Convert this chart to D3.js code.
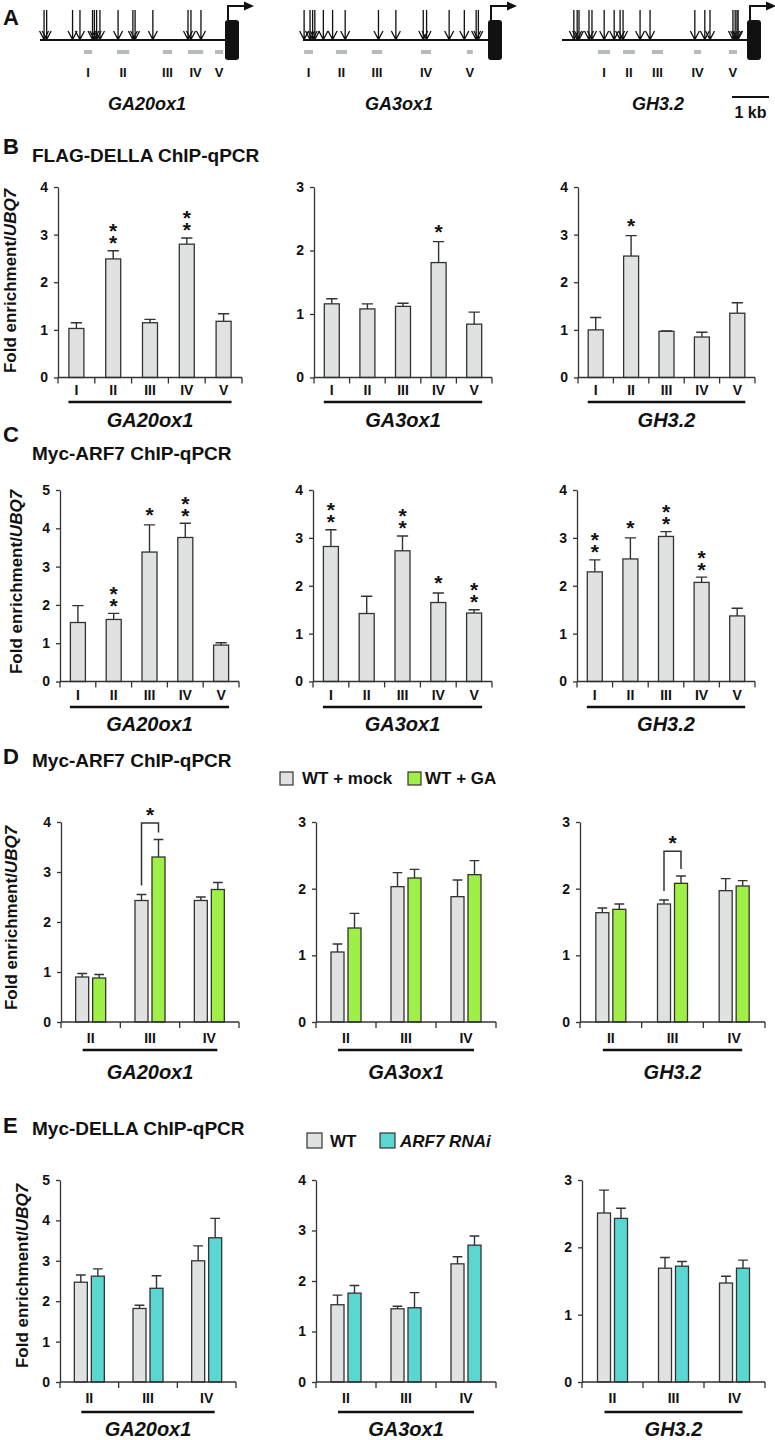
<!DOCTYPE html>
<html><head><meta charset="utf-8">
<script src="https://cdn.jsdelivr.net/npm/d3@7"></script>
<style>
body{margin:0;background:#fff}
svg{display:block}
text{font-family:"Liberation Sans",Arial,Helvetica,sans-serif;font-weight:bold;fill:#111}
.vstar{writing-mode:vertical-rl;text-orientation:upright}
</style>
</head><body>
<svg id="fig" width="775" height="1440"></svg>
<script>
// ================= DATA =================
const genes = ["GA20ox1", "GA3ox1", "GH3.2"];
const regions5 = ["I", "II", "III", "IV", "V"];
const regions3 = ["II", "III", "IV"];

// Panel A: motif positions (kb from TSS) and ChIP amplicons [start, end] (kb)
const motifsGA20ox1 = [-4.89,-4.82,-4.12,-3.92,-3.58,-3.53,-3.47,-3.38,-2.89,-2.49,-2.43,-1.95,-1.0,-0.92,-0.65];
const motifsGA3ox1  = [-4.97,-4.81,-4.74,-4.68,-4.45,-4.20,-3.86,-2.96,-2.49,-1.75,-1.66,-1.05,-0.64,-0.32,-0.26];
const motifsGH32    = [-4.68,-4.59,-4.54,-4.27,-4.19,-3.86,-3.59,-3.43,-3.35,-2.89,-2.62,-1.41,-1.14,-1.0,-0.38,-0.32,-0.27,-0.24];
const ampGA20ox1 = [[-3.81,-3.59],[-2.92,-2.59],[-1.68,-1.43],[-1.0,-0.59],[-0.27,-0.05]];
const ampGA3ox1  = [[-4.97,-4.73],[-4.11,-3.81],[-3.14,-2.86],[-1.81,-1.54],[-0.57,-0.41]];
const ampGH32    = [[-4.03,-3.70],[-3.35,-3.03],[-2.57,-2.27],[-1.43,-1.24],[-0.49,-0.27]];
const promoterKb = 5;
const scaleBarKb = 1;

// Panel B: FLAG-DELLA ChIP-qPCR
const bYMax  = [4, 3, 4];
const bMean  = [[1.03,2.49,1.15,2.80,1.18],[1.16,1.08,1.12,1.81,0.84],[1.00,2.55,0.97,0.85,1.35]];
const bErr   = [[0.12,0.17,0.07,0.13,0.16],[0.08,0.08,0.05,0.33,0.19],[0.26,0.43,0.01,0.10,0.22]];
const bStars = [[0,2,0,2,0],[0,0,0,1,0],[0,1,0,0,0]];

// Panel C: Myc-ARF7 ChIP-qPCR
const cYMax  = [5, 4, 4];
const cMean  = [[1.54,1.62,3.38,3.76,0.95],[2.82,1.42,2.73,1.65,1.43],[2.29,2.56,3.03,2.07,1.37]];
const cErr   = [[0.44,0.16,0.71,0.37,0.06],[0.35,0.36,0.31,0.20,0.07],[0.25,0.44,0.10,0.11,0.16]];
const cStars = [[0,2,1,2,0],[2,0,2,1,2],[2,1,2,2,0]];

// Panel D: Myc-ARF7 ChIP-qPCR, WT + mock vs WT + GA
const dLegend = ["WT + mock", "WT + GA"];
const dYMax   = [4, 3, 3];
const dMock   = [[0.90,2.43,2.43],[1.05,2.03,1.88],[1.64,1.77,1.97]];
const dMockE  = [[0.07,0.12,0.07],[0.12,0.21,0.25],[0.07,0.06,0.18]];
const dGA     = [[0.88,3.30,2.65],[1.41,2.16,2.21],[1.69,2.08,2.04]];
const dGAE    = [[0.07,0.35,0.14],[0.22,0.13,0.21],[0.08,0.11,0.08]];
const dBracket = [{cat:"III", top:3.98}, null, {cat:"III", top:2.56}];

// Panel E: Myc-DELLA ChIP-qPCR, WT vs ARF7 RNAi
const eLegend = ["WT", "ARF7 RNAi"];
const eYMax   = [5, 4, 3];
const eWT     = [[2.47,1.82,3.00],[1.53,1.45,2.34],[2.51,1.69,1.47]];
const eWTE    = [[0.18,0.08,0.37],[0.19,0.05,0.14],[0.34,0.16,0.10]];
const eRNAi   = [[2.62,2.32,3.57],[1.76,1.47,2.71],[2.43,1.72,1.69]];
const eRNAiE  = [[0.18,0.31,0.48],[0.15,0.30,0.18],[0.15,0.07,0.12]];

// ================= STYLE / LAYOUT =================
const INK = "#333", GREY = "#dfe2e1", GREEN = "#9ef047", TEAL = "#5bd7d1", DASH = "#b7bbbb";
const svg = d3.select("#fig");

function text(x, y, s, size, o = {}) {
  const t = svg.append("text").attr("x", x).attr("y", y).attr("font-size", size).text(s);
  if (o.anchor) t.attr("text-anchor", o.anchor);
  if (o.italic) t.attr("font-style", "italic");
  return t;
}

// ---------- Panel A ----------
const kbPx = 37;
const geneA = [
  {tss:225, motifs:motifsGA20ox1, amps:ampGA20ox1, nameX:147},
  {tss:488, motifs:motifsGA3ox1,  amps:ampGA3ox1,  nameX:399},
  {tss:747, motifs:motifsGH32,    amps:ampGH32,    nameX:658}
];
text(3, 25, "A", 22);
geneA.forEach((ga, gi) => {
  const xk = d3.scaleLinear().domain([-promoterKb, 0]).range([ga.tss - promoterKb * kbPx, ga.tss]);
  const g = svg.append("g");
  g.append("line").attr("x1", xk(-promoterKb)).attr("x2", xk(0)).attr("y1", 40).attr("y2", 40)
    .attr("stroke", "#111").attr("stroke-width", 2);
  g.selectAll(".m").data(ga.motifs).join("path")
    .attr("d", d => `M${xk(d)},10V39M${xk(d)-4.5},31L${xk(d)},39.5L${xk(d)+4.5},31`)
    .attr("fill", "none").attr("stroke", "#111").attr("stroke-width", 1.3);
  g.selectAll(".a").data(ga.amps).join("rect")
    .attr("x", d => xk(d[0])).attr("width", d => xk(d[1]) - xk(d[0]))
    .attr("y", 50).attr("height", 4).attr("fill", DASH);
  g.selectAll(".l").data(ga.amps).join("text")
    .attr("x", d => xk((d[0] + d[1]) / 2)).attr("y", 77).attr("text-anchor", "middle")
    .attr("font-size", 13).text((d, i) => regions5[i]);
  g.append("rect").attr("x", xk(0)).attr("y", 20).attr("width", 14).attr("height", 40)
    .attr("rx", 3).attr("fill", "#111");
  g.append("path").attr("d", `M${xk(0)+3},20V6H${xk(0)+20}`).attr("fill", "none")
    .attr("stroke", "#111").attr("stroke-width", 2);
  g.append("path").attr("d", `M${xk(0)+19},1.5L${xk(0)+29},6L${xk(0)+19},10.5Z`).attr("fill", "#111");
  text(ga.nameX, 110, genes[gi], 18, {anchor:"middle", italic:true});
  if (gi === 2) {
    const sb = d3.scaleLinear().domain([0, scaleBarKb]).range([769 - kbPx, 769]);
    svg.append("line").attr("x1", sb(0)).attr("x2", sb(scaleBarKb)).attr("y1", 97).attr("y2", 97)
      .attr("stroke", "#111").attr("stroke-width", 2);
    text((sb(0) + sb(scaleBarKb)) / 2, 118, scaleBarKb + " kb", 16, {anchor:"middle"});
  }
});

// ---------- Bar chart helper ----------
function barChart(cfg) {
  const g = svg.append("g");
  const x = d3.scaleBand().domain(cfg.cats).range([cfg.x0, cfg.x1]);
  const y = d3.scaleLinear().domain([0, cfg.yMax]).range([cfg.y0, cfg.yTop]);
  const nS = cfg.series.length;
  const inner = d3.scaleBand().domain(d3.range(nS))
    .range(nS === 1 ? [-7.5, 7.5] : [-15, 15]).paddingInner(nS === 1 ? 0 : 0.235);
  const bw = inner.bandwidth();
  const cx = (c, si) => x(c) + x.bandwidth() / 2 + inner(si) + bw / 2;

  cfg.series.forEach((s, si) => {
    g.selectAll(null).data(cfg.cats).join("rect")
      .attr("x", c => cx(c, si) - bw / 2).attr("width", bw)
      .attr("y", (c, i) => y(s.vals[i])).attr("height", (c, i) => y(0) - y(s.vals[i]))
      .attr("fill", s.fill).attr("stroke", INK).attr("stroke-width", 1.3);
    const cap = bw * 0.75;
    g.selectAll(null).data(cfg.cats).join("path")
      .attr("d", (c, i) => {
        const xc = cx(c, si), yt = y(s.vals[i] + s.errs[i]);
        return `M${xc},${y(s.vals[i])}V${yt}M${xc - cap/2},${yt}H${xc + cap/2}`;
      })
      .attr("fill", "none").attr("stroke", INK).attr("stroke-width", 1.4);
  });

  // stars (single-series charts): one text per bar, stacked vertically when "**"
  if (cfg.stars) {
    const s = cfg.series[0];
    cfg.cats.forEach((c, i) => {
      const n = cfg.stars[i];
      if (!n) return;
      const yt = y(s.vals[i] + s.errs[i]);
      if (n === 1) {
        g.append("text").attr("x", cx(c, 0)).attr("y", yt - 3)
          .attr("text-anchor", "middle").attr("font-size", 21).text("*");
      } else {
        g.append("text").attr("class", "vstar").attr("x", cx(c, 0)).attr("y", yt - 13 - 10 * (n - 1) - 8.5)
          .attr("font-size", 21).attr("letter-spacing", -11).text("*".repeat(n));
      }
    });
  }
  // significance bracket (two-series charts)
  if (cfg.bracket) {
    const i = cfg.cats.indexOf(cfg.bracket.cat);
    const s0 = cfg.series[0], s1 = cfg.series[1];
    const xl = cx(cfg.bracket.cat, 0), xr = cx(cfg.bracket.cat, 1);
    const yl = y(s0.vals[i] + s0.errs[i]) - 9, yr = y(s1.vals[i] + s1.errs[i]) - 7;
    const yt = y(cfg.bracket.top);
    g.append("path").attr("d", `M${xl},${yl}V${yt}H${xr}V${yr}`)
      .attr("fill", "none").attr("stroke", INK).attr("stroke-width", 1.5);
    g.append("text").attr("x", (xl + xr) / 2).attr("y", yt - 1).attr("text-anchor", "middle")
      .attr("font-size", 21).text("*");
  }

  // y axis
  const ya = g.append("g").attr("transform", `translate(${cfg.x0},0)`)
    .call(d3.axisLeft(y).tickValues(d3.range(0, cfg.yMax + 1)).tickSize(4).tickSizeOuter(0)
      .tickPadding(6).tickFormat(d3.format("d")));
  ya.select(".domain").attr("stroke", INK).attr("stroke-width", 1.3);
  ya.selectAll(".tick line").attr("stroke", INK).attr("stroke-width", 1.3);
  ya.selectAll(".tick text").attr("font-size", 14).attr("font-family", null).attr("fill", "#111");

  // x axis
  g.append("line").attr("x1", cfg.x0).attr("x2", cfg.x1).attr("y1", y(0)).attr("y2", y(0))
    .attr("stroke", INK).attr("stroke-width", 1.3);
  const bounds = cfg.cats.map(c => x(c)).concat([x(cfg.cats[cfg.cats.length - 1]) + x.bandwidth()]);
  g.selectAll(null).data(bounds).join("line")
    .attr("x1", d => d).attr("x2", d => d).attr("y1", y(0)).attr("y2", y(0) + 6)
    .attr("stroke", INK).attr("stroke-width", 1.3);
  g.selectAll(null).data(cfg.cats).join("text")
    .attr("x", c => x(c) + x.bandwidth() / 2).attr("y", y(0) + cfg.labDy)
    .attr("text-anchor", "middle").attr("font-size", 14).text(c => c);
  const ul0 = x(cfg.cats[0]) + x.bandwidth() / 2 - 8;
  const ul1 = x(cfg.cats[cfg.cats.length - 1]) + x.bandwidth() / 2 + 8;
  g.append("line").attr("x1", ul0).attr("x2", ul1).attr("y1", y(0) + cfg.ulDy).attr("y2", y(0) + cfg.ulDy)
    .attr("stroke", "#111").attr("stroke-width", 2.5);
  g.append("text").attr("x", (ul0 + ul1) / 2).attr("y", y(0) + cfg.geneDy)
    .attr("text-anchor", "middle").attr("font-size", 20).attr("font-style", "italic").text(cfg.gene);
}

function yTitle(xc, yc) {
  const t = svg.append("text").attr("transform", `translate(${xc},${yc}) rotate(-90)`)
    .attr("text-anchor", "middle").attr("dominant-baseline", "central").attr("font-size", 17);
  t.append("tspan").text("Fold enrichment/");
  t.append("tspan").attr("font-style", "italic").text("UBQ7");
}

// ---------- Panel B ----------
text(3, 154, "B", 22);
text(32, 162, "FLAG-DELLA ChIP-qPCR", 19);
yTitle(10, 281);
const colB = [[58, 242], [314, 492], [578, 755]];
genes.forEach((gn, i) => barChart({
  x0: colB[i][0], x1: colB[i][1], y0: 377.5, yTop: 187, yMax: bYMax[i], cats: regions5,
  series: [{vals: bMean[i], errs: bErr[i], fill: GREY}], stars: bStars[i],
  gene: gn, labDy: 17.5, ulDy: 24.5, geneDy: 49.5
}));

// ---------- Panel C ----------
text(3, 442, "C", 22);
text(32, 460, "Myc-ARF7 ChIP-qPCR", 19);
yTitle(16, 582);
const colC = [[60, 239], [313, 492], [577, 755]];
genes.forEach((gn, i) => barChart({
  x0: colC[i][0], x1: colC[i][1], y0: 681.5, yTop: 490, yMax: cYMax[i], cats: regions5,
  series: [{vals: cMean[i], errs: cErr[i], fill: GREY}], stars: cStars[i],
  gene: gn, labDy: 18.5, ulDy: 25.5, geneDy: 49.5
}));

// ---------- Panel D ----------
text(3, 764, "D", 22);
text(32, 767, "Myc-ARF7 ChIP-qPCR", 19);
svg.append("rect").attr("x", 280).attr("y", 772).attr("width", 13).attr("height", 13)
  .attr("fill", GREY).attr("stroke", INK).attr("stroke-width", 1.2);
text(302, 784, dLegend[0], 17);
svg.append("rect").attr("x", 408).attr("y", 772).attr("width", 13).attr("height", 13)
  .attr("fill", GREEN).attr("stroke", INK).attr("stroke-width", 1.2);
text(425, 784, dLegend[1], 17);
yTitle(11, 918);
const colD = [[61, 239], [316, 496], [580, 765]];
genes.forEach((gn, i) => barChart({
  x0: colD[i][0], x1: colD[i][1], y0: 1022, yTop: 822, yMax: dYMax[i], cats: regions3,
  series: [{vals: dMock[i], errs: dMockE[i], fill: GREY}, {vals: dGA[i], errs: dGAE[i], fill: GREEN}],
  bracket: dBracket[i], gene: gn, labDy: 21, ulDy: 28, geneDy: 57
}));

// ---------- Panel E ----------
text(3, 1133, "E", 22);
text(32, 1135, "Myc-DELLA ChIP-qPCR", 19);
svg.append("rect").attr("x", 307).attr("y", 1133).attr("width", 15).attr("height", 15)
  .attr("fill", GREY).attr("stroke", INK).attr("stroke-width", 1.2);
text(330, 1147, eLegend[0], 17);
svg.append("rect").attr("x", 380).attr("y", 1133).attr("width", 15).attr("height", 15)
  .attr("fill", TEAL).attr("stroke", INK).attr("stroke-width", 1.2);
text(400, 1147, eLegend[1], 17, {italic: true});
yTitle(22, 1276);
const colE = [[60, 236], [316, 496], [582, 765]];
genes.forEach((gn, i) => barChart({
  x0: colE[i][0], x1: colE[i][1], y0: 1382, yTop: 1180, yMax: eYMax[i], cats: regions3,
  series: [{vals: eWT[i], errs: eWTE[i], fill: GREY}, {vals: eRNAi[i], errs: eRNAiE[i], fill: TEAL}],
  gene: gn, labDy: 21, ulDy: 30, geneDy: 53.5
}));
</script>
</body></html>
